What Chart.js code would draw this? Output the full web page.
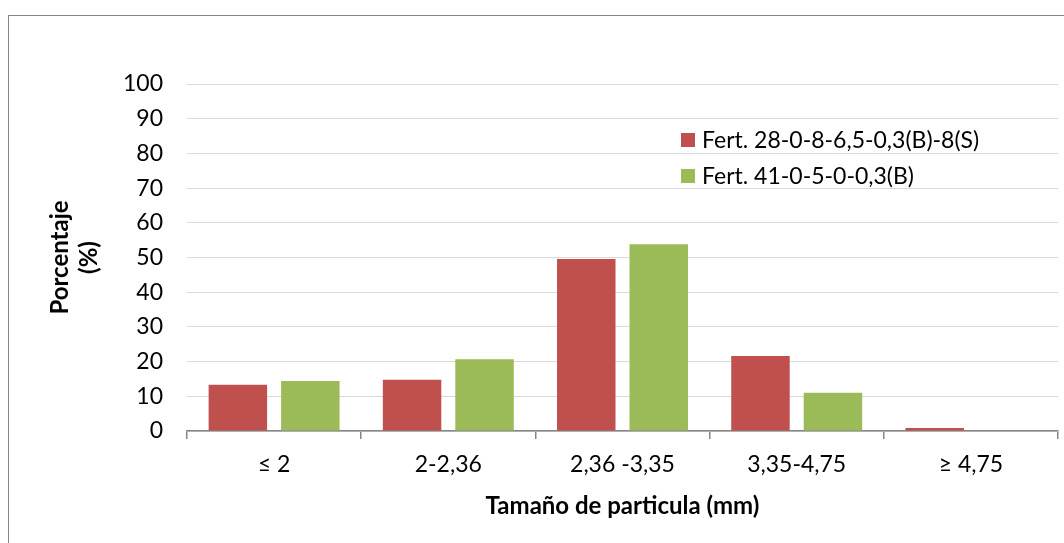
<!DOCTYPE html>
<html>
<head>
<meta charset="utf-8">
<title>Tamaño de particula</title>
<script src="https://cdn.jsdelivr.net/npm/chart.js@4.4.1/dist/chart.umd.min.js"></script>
<style>
  html, body { margin: 0; padding: 0; background: #ffffff; }
  #wrap { position: relative; width: 1064px; height: 543px; overflow: hidden; }
  #frame {
    position: absolute; left: 8px; top: 15px; width: 1100px; height: 600px;
    border-left: 1px solid #868686; border-top: 1px solid #868686;
    pointer-events: none;
  }
  canvas { position: absolute; left: 0; top: 0; }
</style>
</head>
<body>
<div id="wrap">
  <canvas id="chart" width="1064" height="543"></canvas>
  <div id="frame"></div>
</div>
<script>
// Particle size classes (mm)
const categories = ['≤ 2', '2-2,36', '2,36 -3,35', '3,35-4,75', '≥ 4,75'];

// Percentage retained per class for each fertilizer
const fert28 = [13.3, 14.8, 49.6, 21.6, 0.9];
const fert41 = [14.4, 20.7, 53.8, 11.0, 0];

const seriesNames = ['Fert. 28-0-8-6,5-0,3(B)-8(S)', 'Fert. 41-0-5-0-0,3(B)'];
const seriesColors = ['#C0504D', '#9BBB59'];

const yTicksMax = 100;
const yTicksStep = 10;

const FONT = 'Lato, "Open Sans", sans-serif';
const FS = 23;
const FS_TITLE = 24;

// Legend drawn inside the plot, boxes left of the labels
const insideLegend = {
  id: 'insideLegend',
  afterDatasetsDraw(chart) {
    const ctx = chart.ctx;
    const x0 = 681, y0 = 140, rowGap = 36, box = 14;
    ctx.save();
    ctx.font = FS + 'px ' + FONT;
    ctx.textBaseline = 'middle';
    ctx.textAlign = 'left';
    chart.data.datasets.forEach((ds, i) => {
      const cy = y0 + i * rowGap;
      ctx.fillStyle = ds.backgroundColor;
      ctx.fillRect(x0, cy - box / 2, box, box);
      ctx.fillStyle = '#000000';
      ctx.fillText(ds.label, x0 + 21, cy + 1);
    });
    ctx.restore();
  }
};

new Chart(document.getElementById('chart'), {
  type: 'bar',
  data: {
    labels: categories,
    datasets: [
      { label: seriesNames[0], data: fert28, backgroundColor: seriesColors[0] },
      { label: seriesNames[1], data: fert41, backgroundColor: seriesColors[1] }
    ]
  },
  options: {
    responsive: false,
    animation: false,
    devicePixelRatio: 1,
    layout: { padding: { top: 84, right: 6, left: 0, bottom: 0 } },
    datasets: {
      bar: { barPercentage: 0.807, categoryPercentage: 0.832, borderWidth: 0 }
    },
    plugins: {
      legend: { display: false },
      tooltip: { enabled: false }
    },
    scales: {
      x: {
        grid: {
          drawOnChartArea: false,
          drawTicks: true,
          tickLength: 8,
          color: '#868686',
          lineWidth: 1.5
        },
        border: { display: true, color: '#868686', width: 1.5 },
        ticks: {
          color: '#000000',
          font: { family: FONT, size: FS },
          padding: 12,
          maxRotation: 0
        },
        title: {
          display: true,
          text: 'Tamaño de particula (mm)',
          color: '#000000',
          font: { family: FONT, size: FS_TITLE, weight: 'bold' },
          padding: { top: 0, bottom: 22 }
        },
        afterFit(scale) { scale.height = 112; }
      },
      y: {
        min: 0,
        max: yTicksMax,
        grid: {
          color: '#d9d9d9',
          lineWidth: 1,
          drawTicks: false
        },
        border: { display: false },
        ticks: {
          stepSize: yTicksStep,
          color: '#000000',
          font: { family: FONT, size: FS },
          padding: 24
        },
        title: {
          display: true,
          text: ['Porcentaje', '(%)'],
          color: '#000000',
          font: { family: FONT, size: FS_TITLE, weight: 'bold', lineHeight: 1.2 },
          padding: { top: 46, bottom: 0 }
        },
        afterFit(scale) { scale.width = 187; }
      }
    }
  },
  plugins: [insideLegend]
});
</script>
</body>
</html>
